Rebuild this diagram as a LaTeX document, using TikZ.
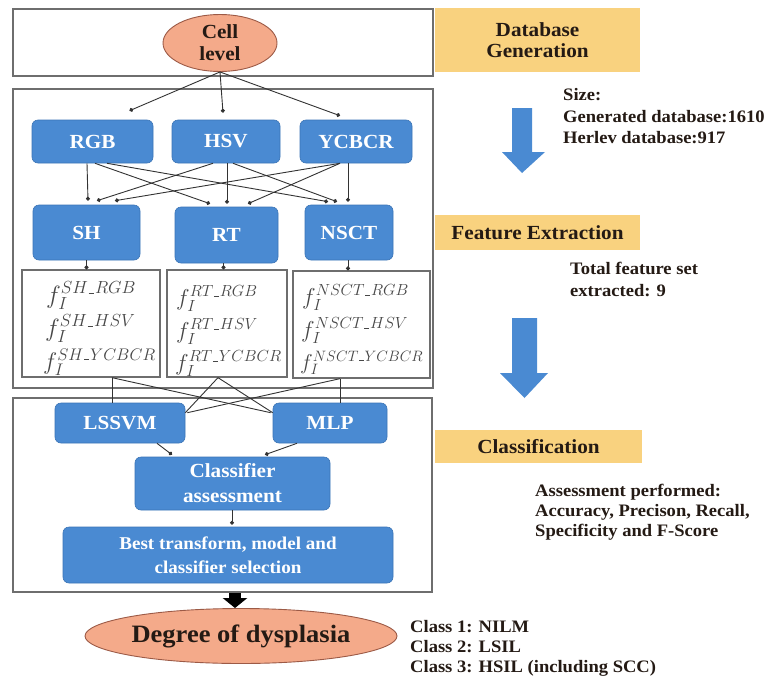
\RequirePackage{fix-cm}
\documentclass[tikz,border=0pt]{standalone}
\usepackage{amsmath}
\usepackage{fontspec}
\setmainfont{Liberation Serif}[FakeStretch=1.06]
\usetikzlibrary{arrows.meta,shapes.geometric,calc}

\definecolor{boxblue}{HTML}{4A8AD2}
\definecolor{boxblueedge}{HTML}{3B74B6}
\definecolor{salmon}{HTML}{F4AA8A}
\definecolor{salmonedge}{HTML}{9C5A46}
\definecolor{hdr}{HTML}{F9D27F}
\definecolor{framegray}{HTML}{6E6E6E}
\definecolor{txt}{HTML}{241A14}

\newcommand\myfs[2]{\fontsize{#1}{#2}\selectfont}
\newcommand\usc{\text{\kern0.04em\rule{0.32em}{0.06em}\kern0.04em}}

\begin{document}
\begin{tikzpicture}[x=1pt,y=-1pt,
 frm/.style={rectangle,draw=framegray,line width=1.5pt,inner sep=0pt},
 bbox/.style={rectangle,rounded corners=6pt,fill=boxblue,draw=boxblueedge,line width=0.6pt,text=white,font=\bfseries\myfs{20}{24},align=center,inner sep=0pt},
 oval/.style={ellipse,fill=salmon,draw=salmonedge,line width=0.9pt,text=txt,align=center},
 hdrbox/.style={rectangle,fill=hdr,inner sep=0pt,text=txt,font=\bfseries\myfs{20}{21},align=center},
 note/.style={anchor=base west,inner sep=0pt,text=txt,font=\bfseries\myfs{17.5}{21}},
 fbox/.style={rectangle,draw=framegray,line width=1.3pt,inner sep=0pt},
 feq/.style={anchor=base west,inner sep=0pt,text=black!72},
 con/.style={draw=black!80,line width=0.9pt,-{Circle[length=4pt]}},
 lnk/.style={draw=black!80,line width=0.9pt},
]
\useasboundingbox[fill=white] (0,0) rectangle (774,683);

% frames
\node[frm,minimum width=420pt,minimum height=67pt] (top) at (223,42.5) {};
\node[frm,minimum width=420pt,minimum height=299pt] (mid) at (223,238.5) {};
\node[frm,minimum width=419pt,minimum height=194pt] (bot) at (222.5,495) {};

% ellipses
\node[oval,minimum width=114pt,minimum height=57pt,inner sep=-3pt,font=\bfseries\myfs{20}{22}] (cell) at (220,43) {Cell\\level};
\node[oval,minimum width=312pt,minimum height=55pt,inner sep=-6pt,font=\bfseries\myfs{25}{28}] (degree) at (241,636) {Degree of dysplasia};

% blue boxes
\node[bbox,minimum width=121pt,minimum height=43pt] (RGB) at (92.5,141.5) {RGB};
\node[bbox,minimum width=108pt,minimum height=43pt] (HSV) at (226,141.5) {HSV};
\node[bbox,minimum width=112pt,minimum height=43pt] (YCBCR) at (356,141.5) {YCBCR};
\node[bbox,minimum width=107pt,minimum height=55pt] (SH) at (86.5,232.5) {SH};
\node[bbox,minimum width=103pt,minimum height=56pt] (RT) at (226.5,235) {RT};
\node[bbox,minimum width=88pt,minimum height=55pt] (NSCT) at (349,232.5) {NSCT};
\node[bbox,minimum width=130pt,minimum height=40pt] (LSSVM) at (120,423) {LSSVM};
\node[bbox,minimum width=114pt,minimum height=40pt] (MLP) at (330,423) {MLP};
\node[bbox,minimum width=195pt,minimum height=53pt,font=\bfseries\myfs{20}{25}] (assess) at (232.5,483.5) {Classifier\\assessment};
\node[bbox,minimum width=330pt,minimum height=56pt,font=\bfseries\myfs{18}{24}] (best) at (228,555) {Best transform, model and\\classifier selection};

% feature boxes
\node[fbox,minimum width=138pt,minimum height=107pt] (fb1) at (91,323.5) {};
\node[fbox,minimum width=120pt,minimum height=107pt] (fb2) at (227,323.5) {};
\node[fbox,minimum width=137pt,minimum height=107pt] (fb3) at (361.5,324.5) {};

\node[feq,font=\myfs{25}{30}] (e11) at (46,303) {$f_I^{SH\usc RGB}$};
\node[feq,font=\myfs{25}{30}] (e12) at (45,336) {$f_I^{SH\usc HSV}$};
\node[feq,font=\myfs{24}{30}] (e13) at (43,369) {$f_I^{SH\usc YCBCR}$};
\node[feq,font=\myfs{23}{27}] (e21) at (176,305) {$f_I^{RT\usc RGB}$};
\node[feq,font=\myfs{23}{27}] (e22) at (176,338) {$f_I^{RT\usc HSV}$};
\node[feq,font=\myfs{23}{27}] (e23) at (175,370) {$f_I^{RT\usc YCBCR}$};
\node[feq,font=\myfs{23}{28}] (e31) at (302,304) {$f_I^{NSCT\usc RGB}$};
\node[feq,font=\myfs{23}{28}] (e32) at (301,337) {$f_I^{NSCT\usc HSV}$};
\node[feq,font=\myfs{21.5}{28}] (e33) at (300,369) {$f_I^{NSCT\usc YCBCR}$};

% headers
\node[hdrbox,minimum width=205pt,minimum height=64pt] (hdb) at (537.5,40) {Database\\Generation};
\node[hdrbox,minimum width=205pt,minimum height=35pt] (hfe) at (537.5,232.5) {Feature Extraction};
\node[hdrbox,minimum width=207pt,minimum height=33pt] (hcl) at (538.5,446.5) {Classification};

% notes
\node[note] (n1) at (563,100) {Size:};
\node[note] (n2) at (563,122) {Generated database:1610};
\node[note] (n3) at (563,143) {Herlev database:917};
\node[note] (n4) at (570,274) {Total feature set};
\node[note] (n5) at (570,296) {extracted: 9};
\node[note] (n6) at (535,496) {Assessment performed:};
\node[note] (n7) at (535,516) {Accuracy, Precison, Recall,};
\node[note] (n8) at (535,536) {Specificity and F-Score};
\node[note] (c1) at (410,632) {Class 1: NILM};
\node[note] (c2) at (410,652) {Class 2: LSIL};
\node[note] (c3) at (410,672) {Class 3: HSIL (including SCC)};

% blue block arrows
\fill[boxblue] (512,108) -- (532,108) -- (532,152) -- (545,152) -- (522,173) -- (502,152) -- (512,152) -- cycle;
\fill[boxblue] (512,318) -- (537,318) -- (537,373) -- (548,373) -- (524.5,398) -- (500,373) -- (512,373) -- cycle;

% connectors
\draw[con] (cell.south) -- ($(RGB.north)+(37,-9)$);
\draw[con] (cell.south) -- ($(HSV.north)+(-3,-7)$);
\draw[con] (cell.south) -- ($(YCBCR.north)+(-16,-4)$);

\draw[con] ($(RGB.south)+(-5.5,0)$) -- ($(SH.north)+(1.5,-4)$);
\draw[con] ($(RGB.south)+(2.5,0)$) -- ($(RT.north)+(-16.5,-3)$);
\draw[con] ($(RGB.south)+(14.5,0)$) -- ($(NSCT.north)+(-21,-3)$);
\draw[con] ($(HSV.south)+(-13,0)$) -- ($(SH.north)+(10.5,-4)$);
\draw[con] ($(HSV.south)+(1,0)$) -- ($(RT.north)+(0.5,-3)$);
\draw[con] ($(HSV.south)+(7,0)$) -- ($(NSCT.north)+(-12,-3)$);
\draw[con] ($(YCBCR.south)+(-16,0)$) -- ($(SH.north)+(28.5,-4)$);
\draw[con] ($(YCBCR.south)+(-16,0)$) -- ($(RT.north)+(21.5,-3)$);
\draw[con] ($(YCBCR.south)+(-8,0)$) -- ($(NSCT.north)+(-1,-3)$);

\draw[con] (SH.south) -- (SH.south |- fb1.north);
\draw[con] ($(RT.south)+(-3,0)$) -- ($(fb2.north)+(-3.5,0)$);
\draw[con] ($(NSCT.south)+(-1,0)$) -- ($(fb3.north)+(-13.5,0)$);

\draw[lnk] ($(fb1.south)+(21,0)$) -- ($(LSSVM.north)+(-8,0)$);
\draw[lnk] ($(fb1.south)+(21,0)$) -- ($(MLP.north west)+(-2,10)$);
\draw[lnk] ($(fb2.south)+(-9,0)$) -- ($(LSSVM.north east)+(0,10)$);
\draw[lnk] ($(fb2.south)+(-9,0)$) -- ($(MLP.north west)+(0,10)$);
\draw[lnk] ($(fb3.south)+(-21.5,0)$) -- ($(LSSVM.north east)+(2,10)$);
\draw[lnk] ($(fb3.south)+(-21.5,0)$) -- ($(MLP.north)+(10,0)$);

\draw[con] ($(LSSVM.south)+(37,0)$) -- ($(assess.north)+(-60.5,-2)$);
\draw[con] ($(MLP.south)+(-33,0)$) -- ($(assess.north)+(32.5,-2)$);
\draw[con] ($(assess.south)+(-0.5,0)$) -- ($(best.north)+(4,-2)$);

\draw[line width=12pt,-{Triangle[width=24pt,length=10pt]}] ($(bot.south)+(12.5,0)$) -- ($(degree.north)+(-6,0)$);
\end{tikzpicture}
\end{document}
